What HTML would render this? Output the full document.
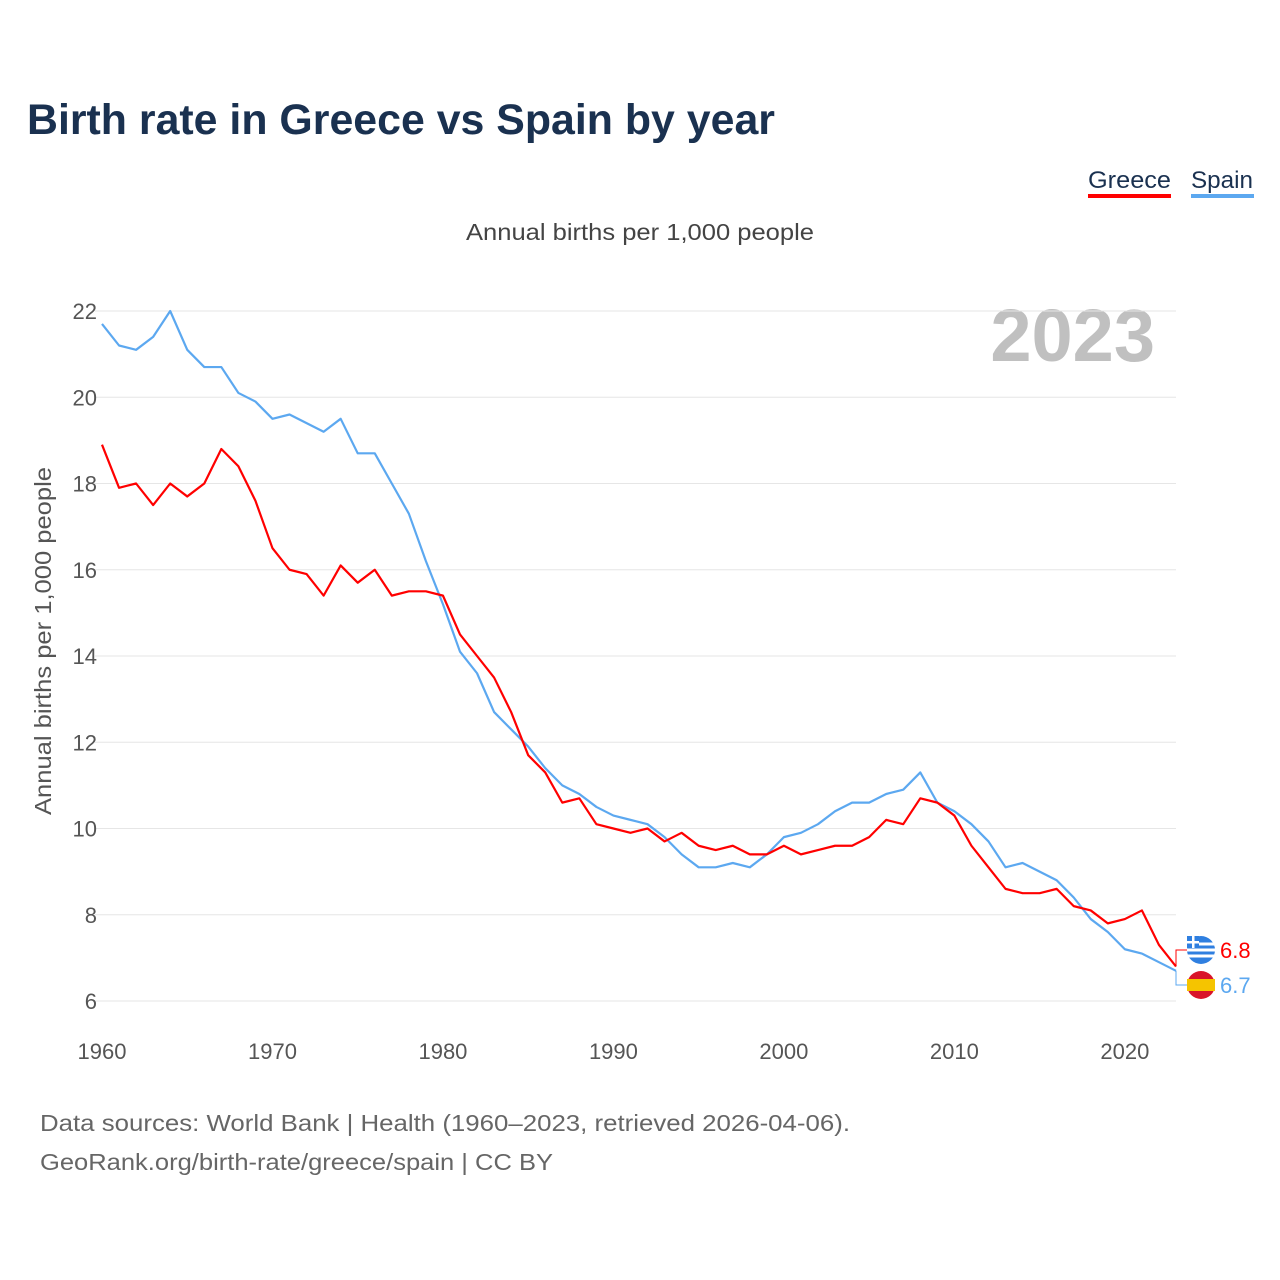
<!DOCTYPE html>
<html><head><meta charset="utf-8"><style>
body{margin:0;background:#fff;font-family:"Liberation Sans",sans-serif;}
#wrap{position:relative;width:1280px;height:1280px;overflow:hidden;}
</style></head><body>
<div id="wrap">
<svg id="chart" width="1280" height="1280" xmlns="http://www.w3.org/2000/svg">
<text x="27" y="134" font-size="43" font-weight="bold" fill="#1a3150" textLength="748" lengthAdjust="spacingAndGlyphs">Birth rate in Greece vs Spain by year</text>
<g><text x="1088" y="188" font-size="24" fill="#1a3150" textLength="83" lengthAdjust="spacingAndGlyphs">Greece</text><rect x="1088" y="194" width="83" height="4" fill="#ff0000"/></g>
<g><text x="1191" y="188" font-size="24" fill="#1a3150" textLength="62" lengthAdjust="spacingAndGlyphs">Spain</text><rect x="1191" y="194" width="63" height="4" fill="#5ca8f0"/></g>
<text x="466" y="240" font-size="23" fill="#444" textLength="348" lengthAdjust="spacingAndGlyphs">Annual births per 1,000 people</text>
<text x="1155" y="361" font-size="74" font-weight="bold" fill="#c0c0c0" text-anchor="end">2023</text>
<text transform="translate(51,815) rotate(-90)" font-size="23" fill="#555" textLength="348" lengthAdjust="spacingAndGlyphs">Annual births per 1,000 people</text>
<g id="grid"></g><g id="lines"></g><g id="ends"></g>
<text x="40" y="1131" font-size="23" fill="#666" textLength="810" lengthAdjust="spacingAndGlyphs">Data sources: World Bank | Health (1960–2023, retrieved 2026-04-06).</text>
<text x="40" y="1170" font-size="23" fill="#666" textLength="513" lengthAdjust="spacingAndGlyphs">GeoRank.org/birth-rate/greece/spain | CC BY</text>
</svg></div>
<script>
const years=[];for(let y=1960;y<=2023;y++)years.push(y);
const greece=[18.9,17.9,18.0,17.5,18.0,17.7,18.0,18.8,18.4,17.6,16.5,16.0,15.9,15.4,16.1,15.7,16.0,15.4,15.5,15.5,15.4,14.5,14.0,13.5,12.7,11.7,11.3,10.6,10.7,10.1,10.0,9.9,10.0,9.7,9.9,9.6,9.5,9.6,9.4,9.4,9.6,9.4,9.5,9.6,9.6,9.8,10.2,10.1,10.7,10.6,10.3,9.6,9.1,8.6,8.5,8.5,8.6,8.2,8.1,7.8,7.9,8.1,7.3,6.8];
const spain=[21.7,21.2,21.1,21.4,22.0,21.1,20.7,20.7,20.1,19.9,19.5,19.6,19.4,19.2,19.5,18.7,18.7,18.0,17.3,16.2,15.2,14.1,13.6,12.7,12.3,11.9,11.4,11.0,10.8,10.5,10.3,10.2,10.1,9.8,9.4,9.1,9.1,9.2,9.1,9.4,9.8,9.9,10.1,10.4,10.6,10.6,10.8,10.9,11.3,10.6,10.4,10.1,9.7,9.1,9.2,9.0,8.8,8.4,7.9,7.6,7.2,7.1,6.9,6.7];
const yTicks=[6,8,10,12,14,16,18,20,22];
const xTicks=[1960,1970,1980,1990,2000,2010,2020];
const NS="http://www.w3.org/2000/svg";
const xs=y=>102+(y-1960)*(1176-102)/63;
const ys=v=>1001-(v-6)*(1001-311)/16;
function mk(tag,attrs,parent){const e=document.createElementNS(NS,tag);for(const k in attrs)e.setAttribute(k,attrs[k]);parent.appendChild(e);return e;}
const grid=document.getElementById('grid');
yTicks.forEach(t=>{
 const l=mk('line',{x1:95,x2:1176,y1:ys(t),y2:ys(t),stroke:'#e6e6e6','stroke-width':1},grid);
 
 
 const tx=mk('text',{x:97,y:ys(t)+8,'font-size':22,fill:'#555','text-anchor':'end'},grid);tx.textContent=t;
 
 
});
xTicks.forEach(t=>{
 const tx=mk('text',{x:xs(t),y:1059,'font-size':22,fill:'#555','text-anchor':'middle'},grid);tx.textContent=t;
 
 
});
const lines=document.getElementById('lines');
[[spain,'#5ca8f0','spain-line'],[greece,'#ff0000','greece-line']].forEach(([d,c,n])=>{
 const p=mk('polyline',{points:d.map((v,i)=>xs(years[i])+','+ys(v)).join(' '),fill:'none',stroke:c,'stroke-width':2.2,'stroke-linejoin':'round'},lines);
 
 
});
const ends=document.getElementById('ends');
const ex=xs(2023);
const g=greece[63],s=spain[63];
mk('polyline',{points:`${ex},${ys(g)} ${ex},950 1188,950`,fill:'none',stroke:'#ff0000','stroke-width':1},ends);
mk('polyline',{points:`${ex},${ys(s)} ${ex},985 1188,985`,fill:'none',stroke:'#5ca8f0','stroke-width':1},ends);
const gf=mk('g',{},ends);


mk('circle',{cx:1201,cy:950,r:14,fill:'#2f7fe0'},gf);
[944,950,956].forEach(y=>mk('rect',{x:1187,y:y-1.5,width:28,height:3,fill:'#fff'},gf));
mk('rect',{x:1187,y:936,width:12,height:12,fill:'#2f7fe0'},gf);
mk('rect',{x:1187,y:941,width:12,height:2.5,fill:'#fff'},gf);
mk('rect',{x:1192,y:936,width:2.5,height:12,fill:'#fff'},gf);
const sf=mk('g',{},ends);


mk('circle',{cx:1201,cy:985,r:14,fill:'#d9142a'},sf);
mk('rect',{x:1187,y:979,width:28,height:12,fill:'#f5c400'},sf);
const gl=mk('text',{x:1220,y:958,'font-size':22,fill:'#ff0000'},ends);gl.textContent=g.toFixed(1);


const sl=mk('text',{x:1220,y:993,'font-size':22,fill:'#5ca8f0'},ends);sl.textContent=s.toFixed(1);


</script>
</body></html>
